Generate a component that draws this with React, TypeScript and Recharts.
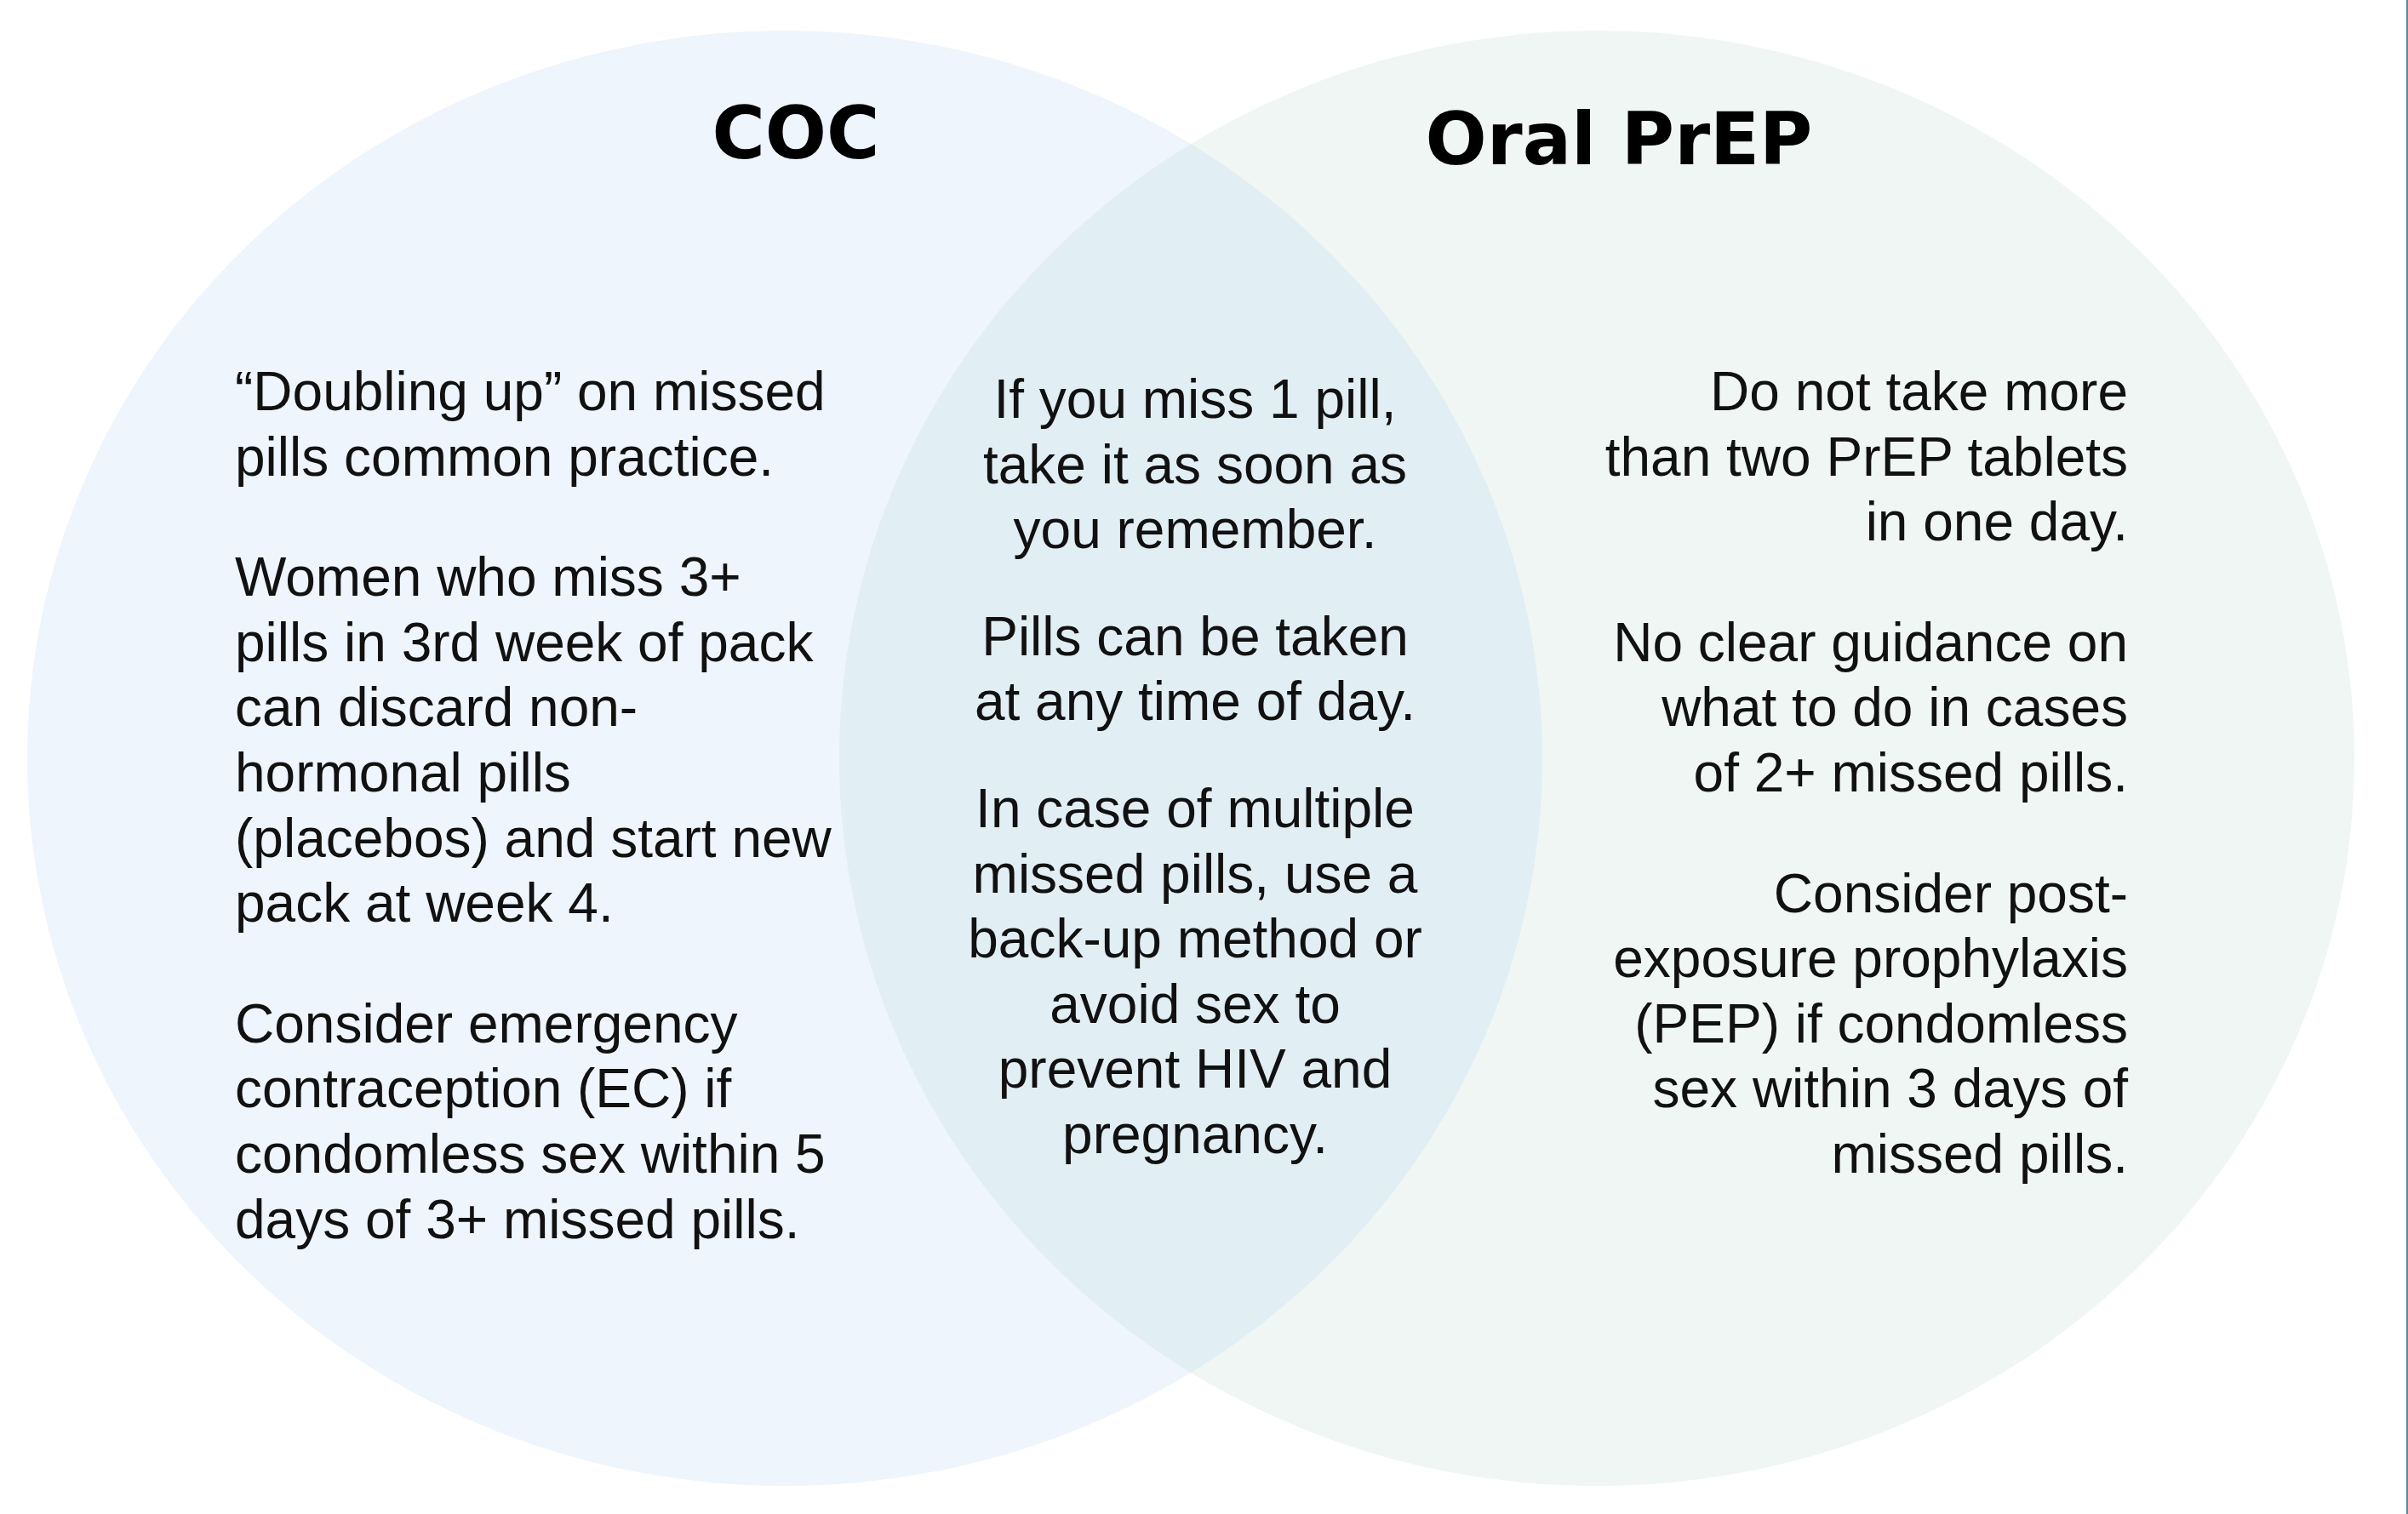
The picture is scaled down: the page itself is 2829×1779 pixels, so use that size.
import React from 'react';
import { ScatterChart, Scatter, XAxis, YAxis } from 'recharts';

const W = 2829;
const H = 1779;

// the two sets, in chart units (1 unit = 1px here)
const setNames = ['COC', 'Oral PrEP'];
const setCenterX = [922, 1876];
const setCenterY = [891, 891];
const setRadiusX = [890, 890];
const setRadiusY = [855, 855];
const setFills = ['#EEF5FC', '#F0F6F4'];
const overlapFill = '#E1EEF3';

const titleX = [935, 1902];
const titleY = [186, 193];

const cocNotes = [
  ['\u201cDoubling up\u201d on missed', 'pills common practice.'],
  [
    'Women who miss 3+',
    'pills in 3rd week of pack',
    'can discard non-',
    'hormonal pills',
    '(placebos) and start new',
    'pack at week 4.',
  ],
  [
    'Consider emergency',
    'contraception (EC) if',
    'condomless sex within 5',
    'days of 3+ missed pills.',
  ],
];

const sharedNotes = [
  ['If you miss 1 pill,', 'take it as soon as', 'you remember.'],
  ['Pills can be taken', 'at any time of day.'],
  [
    'In case of multiple',
    'missed pills, use a',
    'back-up method or',
    'avoid sex to',
    'prevent HIV and',
    'pregnancy.',
  ],
];

const prepNotes = [
  ['Do not take more', 'than two PrEP tablets', 'in one day.'],
  ['No clear guidance on', 'what to do in cases', 'of 2+ missed pills.'],
  [
    'Consider post-',
    'exposure prophylaxis',
    '(PEP) if condomless',
    'sex within 3 days of',
    'missed pills.',
  ],
];

const sets = setNames.map((name, i) => ({
  name,
  x: setCenterX[i],
  y: setCenterY[i],
  rx: setRadiusX[i],
  ry: setRadiusY[i],
  fill: setFills[i],
}));

const titles = setNames.map((name, i) => ({ name, x: titleX[i], y: titleY[i] }));

const blocks = [
  { key: 'coc', x: 276, y: 482, anchor: 'start', gap: 65, paras: cocNotes },
  { key: 'shared', x: 1404, y: 491, anchor: 'middle', gap: 49, paras: sharedNotes },
  { key: 'prep', x: 2500, y: 482, anchor: 'end', gap: 65, paras: prepNotes },
];

const LINE = 76.6;
const bodyFont = '"Liberation Sans", Arial, Helvetica, sans-serif';

const EllipseShape = (props: any) => {
  const { cx, cy, payload } = props;
  return <ellipse cx={cx} cy={cy} rx={payload.rx} ry={payload.ry} fill={payload.fill} />;
};

// right set clipped by the left set
const OverlapShape = (props: any) => {
  const { cx, cy, payload } = props;
  const a = sets[0];
  return (
    <g>
      <defs>
        <clipPath id="lens">
          <ellipse cx={a.x} cy={a.y} rx={a.rx} ry={a.ry} />
        </clipPath>
      </defs>
      <ellipse cx={cx} cy={cy} rx={payload.rx} ry={payload.ry} fill={overlapFill} clipPath="url(#lens)" />
    </g>
  );
};

const TitleShape = (props: any) => (
  <text
    x={props.cx}
    y={props.cy}
    textAnchor="middle"
    fontFamily='"DejaVu Sans", Verdana, sans-serif'
    fontWeight="bold"
    fontSize={85}
    fill="#000"
  >
    {props.payload.name}
  </text>
);

const BlockShape = (props: any) => {
  const { cx, cy, payload } = props;
  let y = cy;
  const out: React.ReactNode[] = [];
  payload.paras.forEach((lines: string[], p: number) => {
    if (p > 0) y += payload.gap;
    lines.forEach((line, l) => {
      out.push(
        <text
          key={`${p}-${l}`}
          x={cx}
          y={y}
          textAnchor={payload.anchor}
          fontFamily={bodyFont}
          fontSize={64}
          fill="#111"
        >
          {line}
        </text>
      );
      y += LINE;
    });
  });
  return <g>{out}</g>;
};

if (typeof document !== 'undefined') document.body.style.margin = '0';

export default function App() {
  return (
    <div style={{ position: 'absolute', left: 0, top: 0, width: W, height: H, background: '#fff' }}>
      <ScatterChart width={W} height={H} margin={{ top: 0, right: 0, bottom: 0, left: 0 }}>
        <XAxis type="number" dataKey="x" domain={[0, W]} hide />
        <YAxis type="number" dataKey="y" domain={[0, H]} reversed hide />
        <Scatter data={sets} shape={EllipseShape} isAnimationActive={false} />
        <Scatter data={[sets[1]]} shape={OverlapShape} isAnimationActive={false} />
        <Scatter data={titles} shape={TitleShape} isAnimationActive={false} />
        <Scatter data={blocks} shape={BlockShape} isAnimationActive={false} />
      </ScatterChart>
      <div style={{ position: 'absolute', right: 0, top: 0, width: 2, height: H, background: '#5b88a8' }} />
    </div>
  );
}
